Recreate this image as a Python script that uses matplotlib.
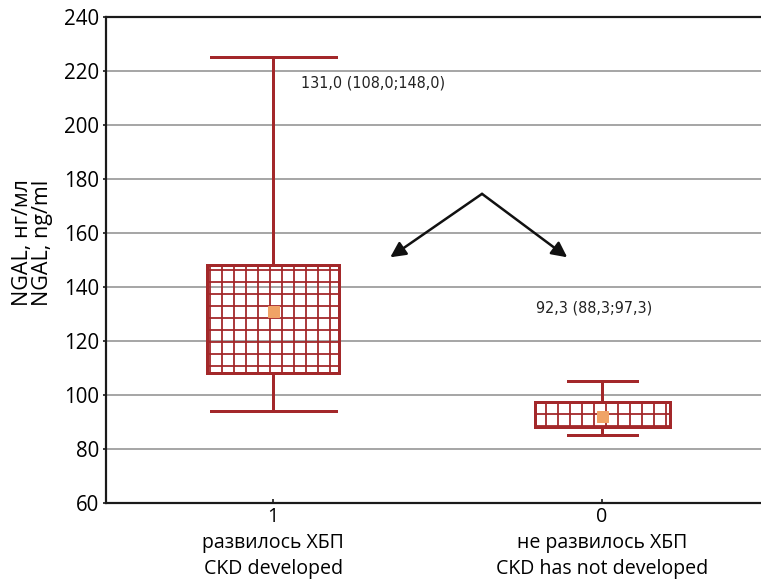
import matplotlib
matplotlib.use('Agg')
import matplotlib.pyplot as plt

# NGAL by outcome group
groups = ['1\nразвилось ХБП\nCKD developed', '0\nне развилось ХБП\nCKD has not developed']
medians = [131.0, 92.3]
q1 = [108.0, 88.3]
q3 = [148.0, 97.3]
whis_lo = [94.0, 85.0]
whis_hi = [225.0, 105.0]
labels = ['131,0 (108,0;148,0)', '92,3 (88,3;97,3)']

red = '#a3282a'
plt.rcParams['font.family'] = ['Open Sans', 'DejaVu Sans']
plt.rcParams['hatch.linewidth'] = 1.8

fig = plt.figure(figsize=(761 / 72, 585 / 72), dpi=72)
ax = fig.add_axes([106 / 761, 82 / 585, 655 / 761, 486 / 585])

# horizontal grid under the boxes
for yv in range(80, 240, 20):
    ax.axhline(yv, color='#8a8a8a', lw=1.5, zorder=0)

stats = []
for i in range(len(groups)):
    stats.append(dict(med=medians[i], mean=medians[i], q1=q1[i], q3=q3[i],
                      whislo=whis_lo[i], whishi=whis_hi[i]))

bp = ax.bxp(stats, positions=[1, 2], widths=[0.4, 0.41], capwidths=[0.38, 0.21],
            patch_artist=True, showmeans=True, showfliers=False,
            boxprops=dict(facecolor='none', edgecolor=red, lw=3, hatch='+'),
            whiskerprops=dict(color=red, lw=3),
            capprops=dict(color=red, lw=3),
            medianprops=dict(visible=False),
            meanprops=dict(marker='s', markersize=11, markerfacecolor='#f0a366',
                           markeredgecolor='#f0a366'))
for b in bp['boxes']:
    b.set_zorder(2)

narrow = dict(fontsize=16, va='center', family='DejaVu Sans', fontstretch='condensed',
              color='#222222')
ax.text(1.085, 215.6, labels[0], **narrow)
ax.text(1.80, 132.2, labels[1], **narrow)

# arrows pointing at both groups
apex = (1.635, 174.5)
for tip in [(1.356, 151.0), (1.894, 151.0)]:
    ax.annotate('', xy=tip, xytext=apex,
                arrowprops=dict(arrowstyle='-|>', color='#111111', lw=2.5,
                                mutation_scale=32, shrinkA=0, shrinkB=0))

ax.set_xlim(0.492, 2.483)
ax.set_ylim(60, 240)
ax.set_yticks(range(60, 241, 20))
ax.set_xticks([1, 2])
ax.set_xticklabels(groups, fontsize=19.5, linespacing=1.4)
ax.tick_params(axis='y', labelsize=20.5, length=3, width=1.5, direction='out', pad=4)
ax.tick_params(axis='x', length=4, width=1.5, direction='in', pad=4)

for s in ['left', 'top', 'bottom']:
    ax.spines[s].set_linewidth(2.2)
    ax.spines[s].set_color('#1a1a1a')
ax.spines['right'].set_visible(False)

ax.text(-0.112, 0.535, 'NGAL, нг/мл\nNGAL, ng/ml', transform=ax.transAxes,
        rotation=90, ha='center', va='center', multialignment='left',
        fontsize=21.5, linespacing=0.95)

fig.savefig('out.png', dpi=72)
